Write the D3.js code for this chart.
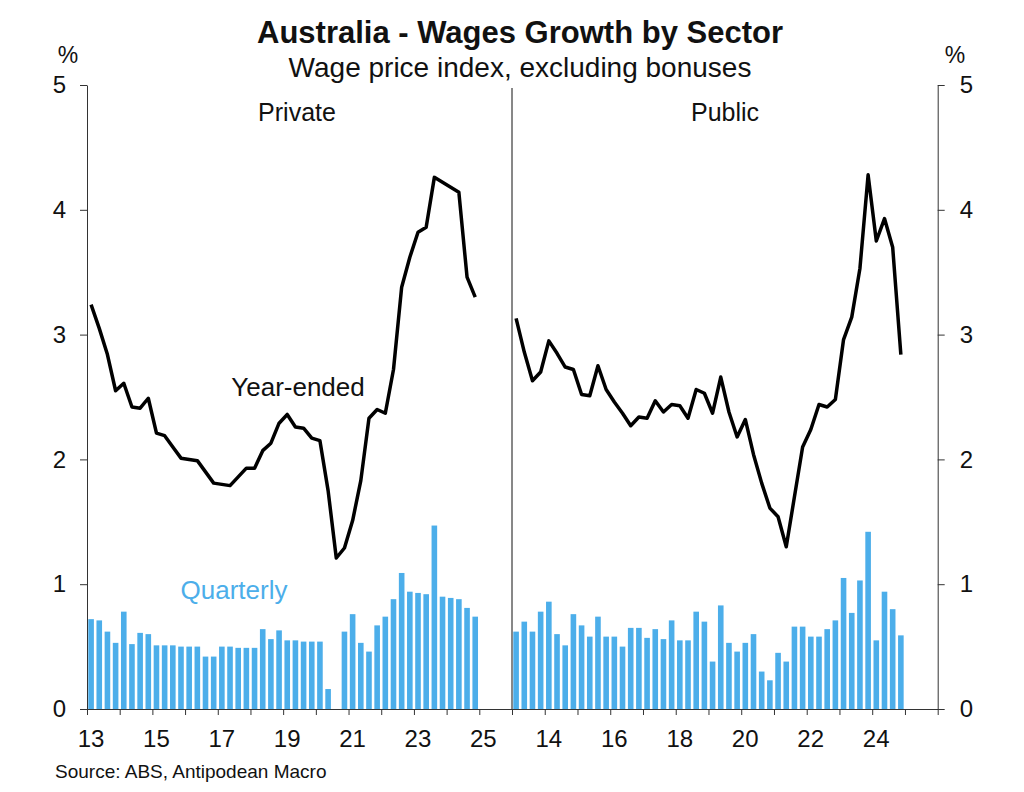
<!DOCTYPE html>
<html>
<head>
<meta charset="utf-8">
<script src="https://cdn.jsdelivr.net/npm/d3@7"></script>
<style>
  body { margin: 0; background: #fff; }
  text { font-family: "Liberation Sans", Arial, sans-serif; fill: #111; }
</style>
</head>
<body>
<div id="chart"></div>
<script>
// quarterly data, 2013Q1 .. 2024Q4
const startYear = 2013;
const privateYearEnded = [3.24, 3.05, 2.84, 2.55, 2.61, 2.42, 2.41, 2.49, 2.21, 2.19, 2.10, 2.01,
  2.00, 1.99, 1.90, 1.81, 1.80, 1.79, 1.86, 1.93, 1.93, 2.07, 2.13, 2.29,
  2.36, 2.26, 2.25, 2.17, 2.15, 1.75, 1.21, 1.29, 1.51, 1.83, 2.33, 2.40,
  2.37, 2.72, 3.38, 3.62, 3.82, 3.86, 4.26, 4.22, 4.18, 4.14, 3.46, 3.30];
const privateQuarterly = [0.72, 0.71, 0.62, 0.53, 0.78, 0.52, 0.61, 0.60, 0.51, 0.51, 0.51, 0.50,
  0.50, 0.50, 0.42, 0.42, 0.50, 0.50, 0.49, 0.49, 0.49, 0.64, 0.56, 0.63,
  0.55, 0.55, 0.54, 0.54, 0.54, 0.16, 0.00, 0.62, 0.76, 0.53, 0.46, 0.67,
  0.74, 0.88, 1.09, 0.94, 0.93, 0.92, 1.47, 0.90, 0.89, 0.88, 0.81, 0.74];
const publicYearEnded = [3.13, 2.86, 2.63, 2.70, 2.95, 2.85, 2.74, 2.72, 2.52, 2.51, 2.75, 2.56,
  2.46, 2.37, 2.27, 2.34, 2.33, 2.47, 2.38, 2.44, 2.43, 2.33, 2.56, 2.53,
  2.37, 2.66, 2.38, 2.18, 2.32, 2.04, 1.81, 1.61, 1.54, 1.30, 1.70, 2.10,
  2.24, 2.44, 2.42, 2.48, 2.96, 3.14, 3.53, 4.28, 3.75, 3.93, 3.70, 2.84];
const publicQuarterly = [0.62, 0.70, 0.62, 0.78, 0.86, 0.60, 0.51, 0.76, 0.67, 0.58, 0.74, 0.58,
  0.58, 0.50, 0.65, 0.65, 0.57, 0.64, 0.56, 0.71, 0.55, 0.55, 0.78, 0.70,
  0.38, 0.83, 0.53, 0.46, 0.53, 0.60, 0.30, 0.23, 0.45, 0.38, 0.66, 0.66,
  0.58, 0.58, 0.64, 0.71, 1.05, 0.77, 1.03, 1.42, 0.55, 0.94, 0.80, 0.59];
const yTicks = [0, 1, 2, 3, 4, 5];
const xYears = d3.range(2013, 2027);
const privateYearLabels = [2013, 2015, 2017, 2019, 2021, 2023, 2025];
const publicYearLabels = [2014, 2016, 2018, 2020, 2022, 2024];

const width = 1024, height = 792;
const plotTop = 85, plotBottom = 709;
const leftX = 87, midX = 512, rightX = 937.7;
const barColor = "#4caeea";

const svg = d3.select("#chart").append("svg")
  .attr("width", width)
  .attr("height", height);

const y = d3.scaleLinear().domain([0, 5]).range([plotBottom, plotTop]);
const xPrivate = d3.scaleLinear().domain([2013, 2026]).range([leftX, midX]);
const xPublic = d3.scaleLinear().domain([2013, 2026]).range([midX, rightX]);

// quarter centres
const qDate = i => startYear + (i + 0.5) / 4;

function drawPanel(x, quarterly, yearEnded, labelYears) {
  const g = svg.append("g");

  g.selectAll("rect")
    .data(quarterly)
    .join("rect")
      .attr("x", (d, i) => x(qDate(i)) - 2.8)
      .attr("y", d => y(d))
      .attr("width", 5.6)
      .attr("height", d => plotBottom - y(d))
      .attr("fill", barColor);

  g.append("path")
    .datum(yearEnded)
    .attr("fill", "none")
    .attr("stroke", "#000")
    .attr("stroke-width", 3.5)
    .attr("stroke-linejoin", "round")
    .attr("d", d3.line().x((d, i) => x(qDate(i))).y(d => y(d)));

  // x axis
  const ax = g.append("g")
    .attr("transform", `translate(0,${plotBottom})`)
    .call(d3.axisBottom(x).tickValues(xYears).tickSize(6).tickSizeOuter(0).tickFormat(""));
  ax.select(".domain").attr("stroke", "#333");
  ax.selectAll(".tick line").attr("stroke", "#333");

  g.selectAll(".xlab")
    .data(labelYears)
    .join("text")
      .attr("class", "xlab")
      .attr("x", d => x(d) + 4)
      .attr("y", plotBottom + 38)
      .attr("text-anchor", "middle")
      .attr("font-size", 24)
      .text(d => String(d).slice(2));
}

drawPanel(xPrivate, privateQuarterly, privateYearEnded, privateYearLabels);
drawPanel(xPublic, publicQuarterly, publicYearEnded, publicYearLabels);

// y axes
const yl = svg.append("g")
  .attr("transform", `translate(${leftX},0)`)
  .call(d3.axisLeft(y).tickValues(yTicks).tickFormat(d3.format("d"))
    .tickSize(7).tickPadding(14).tickSizeOuter(0));
const yr = svg.append("g")
  .attr("transform", `translate(${rightX},0)`)
  .call(d3.axisRight(y).tickValues(yTicks).tickFormat(d3.format("d"))
    .tickSize(7).tickPadding(15).tickSizeOuter(0));
[yl, yr].forEach(a => {
  a.select(".domain").attr("stroke", "#333");
  a.selectAll(".tick line").attr("stroke", "#333");
  a.selectAll(".tick text")
    .attr("font-size", 24)
    .attr("font-family", "Liberation Sans, Arial, sans-serif")
    .attr("fill", "#111");
});

// divider
svg.append("line")
  .attr("x1", midX).attr("x2", midX)
  .attr("y1", 88).attr("y2", plotBottom)
  .attr("stroke", "#111").attr("stroke-width", 1);

// texts
svg.append("text").attr("x", 520).attr("y", 43)
  .attr("text-anchor", "middle").attr("font-size", 31).attr("font-weight", "bold")
  .text("Australia - Wages Growth by Sector");
svg.append("text").attr("x", 520).attr("y", 77)
  .attr("text-anchor", "middle").attr("font-size", 28)
  .text("Wage price index, excluding bonuses");
svg.append("text").attr("x", 68).attr("y", 63)
  .attr("text-anchor", "middle").attr("font-size", 23).text("%");
svg.append("text").attr("x", 955).attr("y", 63)
  .attr("text-anchor", "middle").attr("font-size", 23).text("%");
svg.append("text").attr("x", 297).attr("y", 121)
  .attr("text-anchor", "middle").attr("font-size", 25).text("Private");
svg.append("text").attr("x", 725).attr("y", 121)
  .attr("text-anchor", "middle").attr("font-size", 25).text("Public");
svg.append("text").attr("x", 298).attr("y", 396)
  .attr("text-anchor", "middle").attr("font-size", 26).text("Year-ended");
svg.append("text").attr("x", 234).attr("y", 599)
  .attr("text-anchor", "middle").attr("font-size", 26)
  .style("fill", barColor).text("Quarterly");
svg.append("text").attr("x", 55).attr("y", 778)
  .attr("font-size", 19).text("Source: ABS, Antipodean Macro");
</script>
</body>
</html>
